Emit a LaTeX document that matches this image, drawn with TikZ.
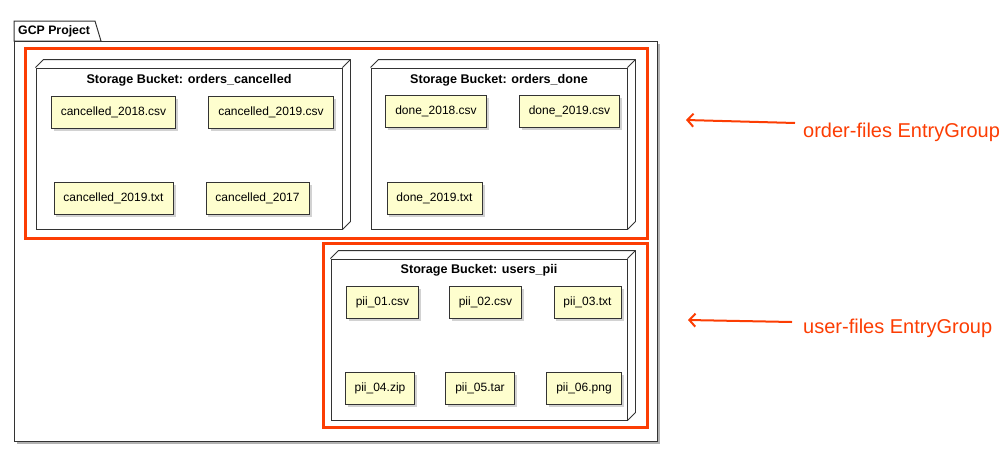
\documentclass[tikz,border=0pt]{standalone}
\usepackage{fontspec}
\setmainfont{Liberation Sans}
\usetikzlibrary{arrows.meta,shadows}
\definecolor{fileyellow}{RGB}{254,254,206}
\definecolor{groupred}{RGB}{252,61,3}
\tikzset{
  bucket/.style={draw=black!80,fill=white,line width=0.9pt},
  bucketedge/.style={draw=black!80,line width=0.9pt,line join=round},
  filebox/.style={draw=black!80,fill=fileyellow,line width=0.9pt,minimum height=32pt,
    inner xsep=9.5pt,font=\fontsize{12}{14}\selectfont,
    drop shadow={shadow xshift=2.5pt,shadow yshift=-2.5pt,opacity=0.35}},
  buckettitle/.style={font=\fontsize{12.6}{14}\selectfont\bfseries,inner sep=0pt},
  groupbox/.style={draw=groupred,line width=3pt},
  grouplabel/.style={text=groupred,font=\fontsize{20}{23}\selectfont,anchor=west,inner sep=0pt},
  grouparrow/.style={draw=groupred,line width=2pt,-{Straight Barb[length=6pt,width=13pt]}}
}
\begin{document}
\begin{tikzpicture}[x=1pt,y=-1pt]
  \useasboundingbox (0,0) rectangle (1001,466);
  % GCP Project package
  \fill[black!30] (17,44) rectangle (660,444);
  \draw[black!80,line width=1pt,fill=white] (14,41) -- (14,21) -- (95,21) -- (101,41) -- cycle;
  \draw[black!80,line width=1pt,fill=white] (14,41) rectangle (657,441);
  \node[buckettitle,font=\fontsize{12.3}{14}\selectfont\bfseries,anchor=west] (gcp) at (18,31) {GCP Project};
  % EntryGroups
  \draw[groupbox] (25,48) rectangle (647,238);
  \draw[groupbox] (323,243) rectangle (647,427);
  % bucket: orders_cancelled
  \node[bucket,minimum width=306pt,minimum height=161pt] (bkc) at (189,148.5) {};
  \draw[bucketedge] (bkc.north west) -- ++(8,-8) -- ([shift={(8,-8)}]bkc.north east)
    -- ([shift={(8,-8)}]bkc.south east) -- (bkc.south east);
  \draw[bucketedge] (bkc.north east) -- ++(8,-8);
  \node[buckettitle] (bkctitle) at (189,80) {Storage Bucket: orders\_cancelled};
  % bucket: orders_done
  \node[bucket,minimum width=256pt,minimum height=161pt] (bkd) at (499,148.5) {};
  \draw[bucketedge] (bkd.north west) -- ++(8,-8) -- ([shift={(8,-8)}]bkd.north east)
    -- ([shift={(8,-8)}]bkd.south east) -- (bkd.south east);
  \draw[bucketedge] (bkd.north east) -- ++(8,-8);
  \node[buckettitle] (bkdtitle) at (499,80) {Storage Bucket: orders\_done};
  % bucket: users_pii
  \node[bucket,minimum width=296pt,minimum height=161pt] (bku) at (479,339.5) {};
  \draw[bucketedge] (bku.north west) -- ++(8,-8) -- ([shift={(8,-8)}]bku.north east)
    -- ([shift={(8,-8)}]bku.south east) -- (bku.south east);
  \draw[bucketedge] (bku.north east) -- ++(8,-8);
  \node[buckettitle] (bkutitle) at (479,270) {Storage Bucket: users\_pii};
  % files
  \node[filebox] (c18csv) at (113.5,112) {cancelled\_2018.csv};
  \node[filebox] (c19csv) at (271,112) {cancelled\_2019.csv};
  \node[filebox] (c19txt) at (113.5,198) {cancelled\_2019.txt};
  \node[filebox] (c17) at (257.5,198) {cancelled\_2017};
  \node[filebox] (d18csv) at (436,111.5) {done\_2018.csv};
  \node[filebox] (d19csv) at (569.5,111.5) {done\_2019.csv};
  \node[filebox] (d19txt) at (434.5,198) {done\_2019.txt};
  \node[filebox] (pii1) at (382.5,302.5) {pii\_01.csv};
  \node[filebox] (pii2) at (485.5,302.5) {pii\_02.csv};
  \node[filebox] (pii3) at (587.5,302.5) {pii\_03.txt};
  \node[filebox] (pii4) at (380,388) {pii\_04.zip};
  \node[filebox] (pii5) at (480,388) {pii\_05.tar};
  \node[filebox] (pii6) at (584,388) {pii\_06.png};
  % labels and arrows
  \node[grouplabel] (ordlbl) at (803,132) {order-files EntryGroup};
  \node[grouplabel] (usrlbl) at (803,328) {user-files EntryGroup};
  \coordinate (ordtip) at (686,120);
  \coordinate (usrtip) at (688,320);
  \draw[grouparrow] ([shift={(-8,-9)}]ordlbl.west) -- (ordtip);
  \draw[grouparrow] ([shift={(-11,-6)}]usrlbl.west) -- (usrtip);
\end{tikzpicture}
\end{document}
